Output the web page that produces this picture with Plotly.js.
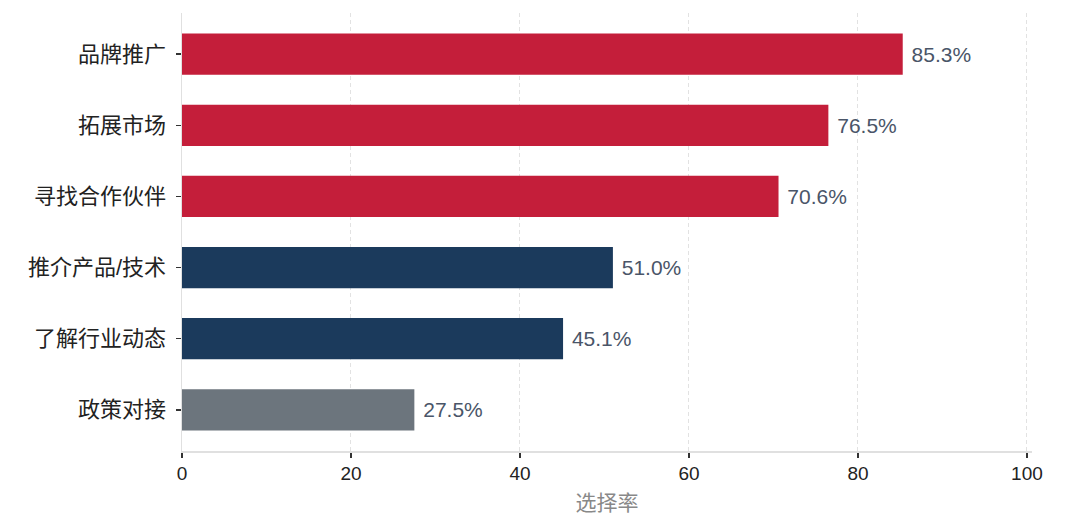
<!DOCTYPE html>
<html>
<head>
<meta charset="utf-8">
<script src="https://cdn.plot.ly/plotly-3.0.1.min.js"></script>
<style>
  html, body { margin: 0; padding: 0; background: #fff; }
  #chart { width: 1080px; height: 528px; }
</style>
</head>
<body>
<div id="chart"></div>
<script>
var categories = ['品牌推广', '拓展市场', '寻找合作伙伴', '推介产品/技术', '了解行业动态', '政策对接'];
var rates = [85.3, 76.5, 70.6, 51.0, 45.1, 27.5];
var barColors = ['#C41E3A', '#C41E3A', '#C41E3A', '#1B3A5C', '#1B3A5C', '#6C757D'];
var xTicks = [0, 20, 40, 60, 80, 100];

var fontFamily = 'Liberation Sans, Arial, Noto Sans CJK SC, sans-serif';

var trace = {
    type: 'bar',
    orientation: 'h',
    x: rates,
    y: categories,
    width: 0.58,
    marker: { color: barColors, line: { width: 0 } },
    // leading space gives the gap between bar end and label
    text: rates.map(function(v) { return ' ' + v.toFixed(1) + '%'; }),
    textposition: 'outside',
    cliponaxis: false,
    textfont: { family: fontFamily, size: 21, color: '#4A5568' },
    hoverinfo: 'none'
};

var layout = {
    width: 1080,
    height: 528,
    margin: { l: 182, r: 48, t: 13, b: 77 },
    paper_bgcolor: '#ffffff',
    plot_bgcolor: '#ffffff',
    showlegend: false,
    font: { family: fontFamily, color: '#222222' },
    xaxis: {
        range: [0, 100.6],
        tickvals: xTicks,
        ticktext: xTicks.map(String),
        ticks: 'outside',
        ticklen: 5,
        tickwidth: 1.5,
        tickcolor: '#333333',
        tickfont: { size: 19, color: '#222222' },
        showgrid: true,
        gridcolor: '#e2e2e2',
        griddash: '4px,3px',
        gridwidth: 1,
        zeroline: false,
        showline: true,
        linecolor: '#e0e0e0',
        linewidth: 1.5,
        title: {
            text: '选择率',
            font: { size: 21, color: '#888888' },
            standoff: 12
        }
    },
    yaxis: {
        type: 'category',
        range: [5.58, -0.58],
        ticks: 'outside',
        ticklen: 5,
        tickwidth: 1.5,
        tickcolor: '#333333',
        tickfont: { size: 22, color: '#222222' },
        ticklabelstandoff: 5,
        showgrid: false,
        zeroline: false,
        showline: true,
        linecolor: '#e0e0e0',
        linewidth: 1.5
    }
};

Plotly.newPlot('chart', [trace], layout, { displayModeBar: false, staticPlot: true });
</script>
</body>
</html>
